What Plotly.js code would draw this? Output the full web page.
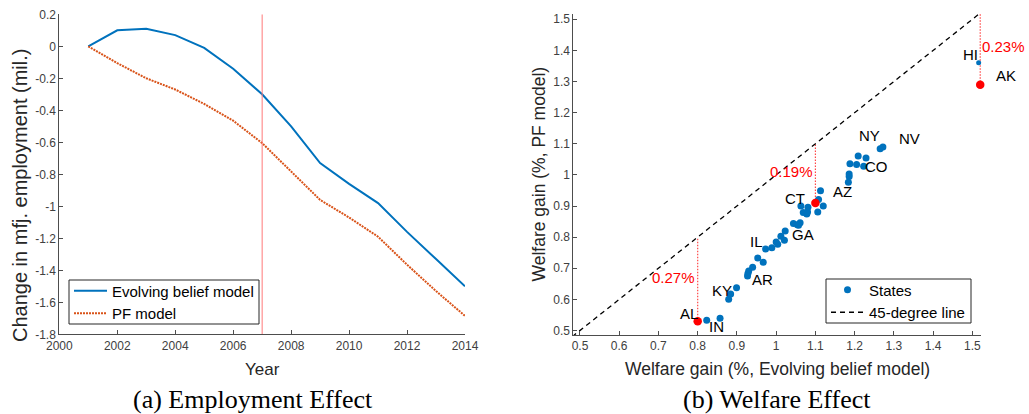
<!DOCTYPE html>
<html>
<head>
<meta charset="utf-8">
<script src="https://cdn.plot.ly/plotly-3.0.1.min.js"></script>
<style>html,body{margin:0;padding:0;background:#fff;}#chart{width:1029px;height:414px;}</style>
</head>
<body>
<div id="chart"></div>
<script>
// ---------- Panel (a) data ----------
const years = [2001,2002,2003,2004,2005,2006,2007,2008,2009,2010,2011,2012,2013,2014];
const evolvingBelief = [0, 0.10, 0.11, 0.07, -0.01, -0.14, -0.30, -0.50, -0.73, -0.86, -0.98, -1.16, -1.33, -1.50];
const pfModel = [0, -0.105, -0.20, -0.27, -0.36, -0.465, -0.605, -0.785, -0.96, -1.07, -1.19, -1.365, -1.53, -1.685];
const policyYear = 2007;
const yearTicks = [2000,2002,2004,2006,2008,2010,2012,2014];
const empTickVals = [0.2,0,-0.2,-0.4,-0.6,-0.8,-1,-1.2,-1.4,-1.6,-1.8];
const empTickText = ['0.2','0','-0.2','-0.4','-0.6','-0.8','-1','-1.2','-1.4','-1.6','-1.8'];

// ---------- Panel (b) data ----------
const statesX = [1.265,1.272,1.209,1.229,1.188,1.205,1.223,1.186,1.186,1.184,
                 1.113,1.108,1.120,1.063,1.081,1.069,1.078,1.080,1.106,
                 1.044,1.054,1.061,1.057,1.023,1.012,1.021,1.000,1.004,0.989,0.973,
                 0.953,0.967,0.940,0.930,0.928,0.927,0.899,0.884,0.879,0.823,0.857,0.786];
const statesY = [1.084,1.090,1.061,1.054,1.036,1.033,1.028,1.003,0.995,0.976,
                 0.949,0.921,0.900,0.900,0.896,0.879,0.874,0.881,0.881,
                 0.844,0.840,0.846,0.838,0.820,0.803,0.790,0.784,0.777,0.766,0.762,
                 0.733,0.719,0.703,0.691,0.683,0.675,0.637,0.617,0.600,0.533,0.539,0.485];
const hiX = [1.516];
const hiY = [1.360];
const highlightX = [0.80, 1.10, 1.52];
const highlightY = [0.53, 0.91, 1.29];
const diagLine = [0.48, 1.52];
const welfareTicks = [0.5,0.6,0.7,0.8,0.9,1.0,1.1,1.2,1.3,1.4,1.5];
const welfareTickText = ['0.5','0.6','0.7','0.8','0.9','1','1.1','1.2','1.3','1.4','1.5'];
const welfareYTicks = [0.5,0.6,0.7,0.8,0.9,1.0,1.1,1.2,1.3,1.4,1.5];
const welfareYTickText = ['0.5','0.6','0.7','0.8','0.9','1','1.1','1.2','1.3','1.4','1.5'];
const stateNames = ['HI','AK','NY','NV','CO','AZ','CT','GA','IL','AR','KY','AL','IN'];

// ---------- layout geometry (pixels) ----------
const W = 1029, H = 414;
const X1D = [59.3, 465], Y1D = [334.3, 14.3];
const X2D = [573.3, 981], Y2D = [335, 14];
const X2R = [0.483, 1.522], Y2R = [0.4855, 1.517];
function px2(x){ return X2D[0] + (x - X2R[0]) / (X2R[1] - X2R[0]) * (X2D[1] - X2D[0]); }
function py2(y){ return Y2D[0] + (y - Y2R[0]) / (Y2R[1] - Y2R[0]) * (Y2D[1] - Y2D[0]); }

// label placement (text positions only, in data units of panel b)
const stateLabelPos = {
  HI:[1.494,1.388], AK:[1.586,1.318], NY:[1.237,1.128], NV:[1.339,1.118],
  CO:[1.255,1.028], AZ:[1.170,0.948], CT:[1.048,0.925], GA:[1.068,0.810],
  IL:[0.949,0.787], AR:[0.964,0.665], KY:[0.862,0.627], AL:[0.778,0.556], IN:[0.847,0.514]
};
const gapLabelPos = [[0.798,0.671,'right'],[1.099,1.010,'right'],[1.641,1.412,'right']];

const BLUE = '#0072BD', ORANGE = '#D95319', RED = '#FF0000';
const AXC = '#4d4d4d', TXC = '#404040';
const SANS = 'Liberation Sans, Arial, sans-serif';
const SERIF = 'Liberation Serif, Times New Roman, serif';
const TITLE_SIZE = 17.5;

const traces = [
  {x: years, y: evolvingBelief, type:'scatter', mode:'lines', name:'Evolving belief model',
   line:{color:BLUE, width:2}, xaxis:'x', yaxis:'y', legend:'legend'},
  {x: years, y: pfModel, type:'scatter', mode:'lines', name:'PF model',
   line:{color:ORANGE, width:2, dash:'2px,1px'}, xaxis:'x', yaxis:'y', legend:'legend'},
  {x: [policyYear, policyYear], y:[empTickVals[0], empTickVals[empTickVals.length-1]], type:'scatter', mode:'lines',
   line:{color:'rgb(255,120,120)', width:1}, showlegend:false, hoverinfo:'skip', xaxis:'x', yaxis:'y'}
];
highlightX.forEach((gx, i) => {
  traces.push({x:[gx, gx], y:[highlightY[i], gx], type:'scatter', mode:'lines',
    line:{color:'rgb(255,70,70)', width:1.2, dash:'1.5px,1.5px'}, showlegend:false, hoverinfo:'skip',
    xaxis:'x2', yaxis:'y2', cliponaxis:false});
});
traces.push(
  {x: statesX, y: statesY, type:'scatter', mode:'markers', name:'States',
   marker:{color:BLUE, size:7}, xaxis:'x2', yaxis:'y2', legend:'legend2'},
  {x: diagLine, y: diagLine, type:'scatter', mode:'lines', name:'45-degree line',
   line:{color:'#000', width:1.3, dash:'5px,4px'}, xaxis:'x2', yaxis:'y2', legend:'legend2'},
  {x: hiX, y: hiY, type:'scatter', mode:'markers', marker:{color:BLUE, size:5},
   showlegend:false, xaxis:'x2', yaxis:'y2', cliponaxis:false},
  {x: highlightX, y: highlightY, type:'scatter', mode:'markers', marker:{color:RED, size:8.5},
   showlegend:false, xaxis:'x2', yaxis:'y2', cliponaxis:false}
);

const annotations = [];
stateNames.forEach(n => {
  const p = stateLabelPos[n];
  annotations.push({x:px2(p[0])/W, y:1-py2(p[1])/H, xref:'paper', yref:'paper', text:n, showarrow:false,
    xanchor:'center', yanchor:'middle', font:{family:SANS, size:15, color:'#000'}});
});
highlightX.forEach((gx, i) => {
  const p = gapLabelPos[i];
  annotations.push({x:Math.min(px2(p[0]), W - 2)/W, y:1-py2(p[1])/H, xref:'paper', yref:'paper',
    text:(gx - highlightY[i]).toFixed(2) + '%',
    showarrow:false, xanchor:p[2], yanchor:'middle', font:{family:SANS, size:15, color:RED}});
});
annotations.push(
  {text:'Year', xref:'paper', yref:'paper', x:262.5/W, y:1-369/H, showarrow:false,
   xanchor:'center', yanchor:'middle', font:{family:SANS, size:17, color:'#262626'}},
  {text:'Change in mfj. employment (mil.)', xref:'paper', yref:'paper', x:20/W, y:1-196/H, textangle:-90,
   showarrow:false, xanchor:'center', yanchor:'middle', font:{family:SANS, size:20, color:'#262626'}},
  {text:'Welfare gain (%, Evolving belief model)', xref:'paper', yref:'paper', x:777/W, y:1-369/H,
   showarrow:false, xanchor:'center', yanchor:'middle', font:{family:SANS, size:TITLE_SIZE, color:'#262626'}},
  {text:'Welfare gain (%, PF model)', xref:'paper', yref:'paper', x:538/W, y:1-174.5/H, textangle:-90,
   showarrow:false, xanchor:'center', yanchor:'middle', font:{family:SANS, size:TITLE_SIZE, color:'#262626'}},
  {text:'(a) Employment Effect', xref:'paper', yref:'paper', x:253.3/W, y:1-399/H,
   showarrow:false, xanchor:'center', yanchor:'middle', font:{family:SERIF, size:26, color:'#000'}},
  {text:'(b) Welfare Effect', xref:'paper', yref:'paper', x:776.7/W, y:1-399/H,
   showarrow:false, xanchor:'center', yanchor:'middle', font:{family:SERIF, size:26, color:'#000'}}
);

// legend frames
const shapes = [
  {type:'rect', xref:'paper', yref:'paper', x0:69/W, x1:259/W, y0:1-324/H, y1:1-280/H,
   line:{color:'#262626', width:1}, fillcolor:'#fff', layer:'above'},
  {type:'rect', xref:'paper', yref:'paper', x0:826/W, x1:971/W, y0:1-323/H, y1:1-279/H,
   line:{color:'#262626', width:1}, fillcolor:'#fff', layer:'above'}
];

const axisCommon = {showline:true, linecolor:AXC, linewidth:1, mirror:false, showgrid:false, zeroline:false,
  ticks:'inside', ticklen:4, tickcolor:AXC, tickwidth:1, tickfont:{family:SANS, size:12, color:TXC}};

const layout = {
  width:W, height:H, margin:{l:0, r:0, t:0, b:0}, paper_bgcolor:'#fff', plot_bgcolor:'#fff',
  showlegend:true,
  xaxis: Object.assign({}, axisCommon, {domain:[X1D[0]/W, X1D[1]/W], range:[2000, 2014],
    tickvals:yearTicks, ticktext:yearTicks.map(String), anchor:'y'}),
  yaxis: Object.assign({}, axisCommon, {domain:[1-Y1D[0]/H, 1-Y1D[1]/H], range:[-1.8, 0.2],
    tickvals:empTickVals, ticktext:empTickText, anchor:'x'}),
  xaxis2: Object.assign({}, axisCommon, {domain:[X2D[0]/W, X2D[1]/W], range:X2R,
    tickvals:welfareTicks, ticktext:welfareTickText, anchor:'y2'}),
  yaxis2: Object.assign({}, axisCommon, {domain:[1-Y2D[0]/H, 1-Y2D[1]/H], range:Y2R,
    tickvals:welfareYTicks, ticktext:welfareYTickText, anchor:'x2'}),
  legend: {x:69/W, y:1-274.5/H, xanchor:'left', yanchor:'top', bgcolor:'rgba(0,0,0,0)',
    borderwidth:0, font:{family:SANS, size:15, color:'#000'}, itemwidth:33, tracegroupgap:0},
  legend2: {x:826/W, y:1-273.5/H, xanchor:'left', yanchor:'top', bgcolor:'rgba(0,0,0,0)',
    borderwidth:0, font:{family:SANS, size:15, color:'#000'}, itemwidth:33, tracegroupgap:0},
  shapes: shapes,
  annotations: annotations
};

Plotly.newPlot('chart', traces, layout, {staticPlot:true, displayModeBar:false});
</script>
</body>
</html>
